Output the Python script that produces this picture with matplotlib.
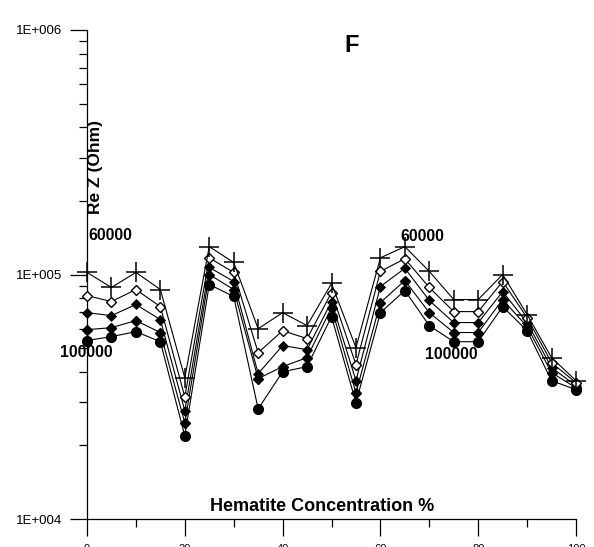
import math
import matplotlib
matplotlib.use("Agg")
import matplotlib.pyplot as plt
from matplotlib.ticker import LogLocator, FixedLocator, FuncFormatter, NullFormatter

plt.rcParams['font.family'] = ['Liberation Sans', 'DejaVu Sans']

# ----------------------------
# Datos
# ----------------------------
conc = [0, 5, 10, 15, 20, 25, 30, 35, 40, 45, 50, 55, 60, 65, 70, 75, 80, 85, 90, 95, 100]

f60000 = [102000, 88500, 102000, 86800, 37800, 130000, 112000, 60000, 69800, 61800, 91900,
          50200, 117000, 130000, 103000, 79000, 79000, 100000, 68600, 45700, 36800]
f70000 = [82000, 77500, 86800, 73900, 31600, 117000, 102000, 47900, 58900, 54700, 84400,
          42800, 103000, 116000, 88500, 70500, 70500, 93600, 66600, 43600, 36100]
f80000 = [69800, 67900, 75400, 65400, 27700, 107000, 93600, 39300, 51200, 49300, 77500,
          36800, 89300, 106000, 78300, 63600, 63600, 85100, 63600, 41600, 35100]
f90000 = [59500, 60600, 64800, 57900, 24700, 100000, 86800, 37500, 42000, 45700, 73200,
          32800, 76800, 94500, 69800, 57900, 57900, 79000, 61200, 39700, 34400]
f100000 = [53700, 55700, 58400, 53100, 21900, 91000, 81300, 28200, 40000, 42000, 67300,
           29900, 69800, 86000, 61800, 53100, 53100, 73900, 58900, 36800, 33800]

x_ticks = [0, 20, 40, 60, 80, 100]
x_minor = [10, 30, 50, 70, 90]

fig = plt.figure(figsize=(5.94, 5.47), dpi=100)
ax = fig.add_axes([87 / 594, 1 - 519 / 547, 489 / 594, 489 / 547])

line_kw = dict(color="black", lw=0.8, clip_on=False, zorder=3)
ax.plot(conc, f100000, marker="o", ms=7, mfc="black", mec="black", **line_kw)
ax.plot(conc, f90000, marker="D", ms=5.5, mfc="black", mec="black", **line_kw)
ax.plot(conc, f80000, marker="D", ms=5, mfc="black", mec="black", mew=0.6, **line_kw)
ax.plot(conc, f70000, marker="D", ms=5.5, mfc="white", mec="black", mew=1.0, **line_kw)
ax.plot(conc, f60000, marker="+", ms=15, mec="black", mew=1.1, **line_kw)

ax.set_yscale("log")
ax.set_xlim(0, 100)
ax.set_ylim(1e4, 1e6)

# ejes estilo Surfer: solo izquierda y abajo
for s in ["top", "right"]:
    ax.spines[s].set_visible(False)
ax.spines["left"].set_linewidth(0.9)
ax.spines["bottom"].set_linewidth(0.9)

ax.yaxis.set_major_locator(LogLocator(base=10, numticks=5))
ax.yaxis.set_minor_locator(LogLocator(base=10, subs=range(2, 10), numticks=20))
ax.yaxis.set_major_formatter(FuncFormatter(lambda v, p: "1E+%03d" % round(math.log10(v))))
ax.yaxis.set_minor_formatter(NullFormatter())

ax.xaxis.set_major_locator(FixedLocator(x_ticks))
ax.xaxis.set_minor_locator(FixedLocator(x_minor))

ax.tick_params(axis="both", which="major", direction="out", length=12, width=0.9)
ax.tick_params(axis="both", which="minor", direction="out", length=6, width=0.9)
ax.tick_params(axis="x", which="major", pad=6, labelsize=8)
ax.tick_params(axis="y", which="major", pad=6, labelsize=9.5)

# textos
bold = dict(fontweight="bold", color="black")
ax.text(0.542, 0.969, "F", transform=ax.transAxes, ha="center", va="center", fontsize=17, **bold)
ax.text(0.017, 0.719, "Re Z (Ohm)", transform=ax.transAxes, rotation=90,
        ha="center", va="center", fontsize=12.5, **bold)
ax.text(0.481, 0.025, "Hematite Concentration %", transform=ax.transAxes,
        ha="center", va="center", fontsize=13, **bold)

ax.text(0.3, 1.445e5, "60000", ha="left", va="center", fontsize=11.3, **bold)
ax.text(-5.5, 4.79e4, "100000", ha="left", va="center", fontsize=11.3, clip_on=False, **bold)
ax.text(64.1, 1.43e5, "60000", ha="left", va="center", fontsize=11.3, **bold)
ax.text(69.1, 4.7e4, "100000", ha="left", va="center", fontsize=11.3, **bold)

fig.savefig("out.png", dpi=100)
